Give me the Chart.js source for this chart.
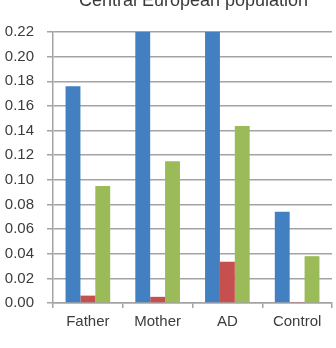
<!DOCTYPE html>
<html>
<head>
<meta charset="utf-8">
<script src="https://cdn.jsdelivr.net/npm/chart.js@4/dist/chart.umd.min.js"></script>
<style>
  html, body { margin: 0; padding: 0; background: #fff; }
</style>
</head>
<body>
<canvas id="chart" width="336" height="348"></canvas>
<script>
const categories = ["Father", "Mother", "AD", "Control"];
const blueValues = [0.176, 0.25, 0.25, 0.074];
const redValues = [0.006, 0.005, 0.0335, 0.0008];
const greenValues = [0.095, 0.115, 0.1437, 0.038];
const tickLabels = ["0.00", "0.02", "0.04", "0.06", "0.08", "0.10", "0.12", "0.14", "0.16", "0.18", "0.20", "0.22"];
const chartTitle = "Central European population";

const gridColor = "#a3a3a3";
const textColor = "#3c3c3c";
const fontFamily = "Liberation Sans";

// title is centred over the plot area and sits partly above the top edge
const plotTitle = {
  id: "plotTitle",
  afterDraw(chart) {
    const c = chart.ctx;
    const area = chart.chartArea;
    c.save();
    c.font = "18px " + fontFamily;
    c.fillStyle = "#3a3a3a";
    c.textAlign = "center";
    c.textBaseline = "alphabetic";
    c.fillText(chartTitle, (area.left + area.right) / 2 + 1, 6);
    c.restore();
  },
};

const ctx = document.getElementById("chart").getContext("2d");

new Chart(ctx, {
  type: "bar",
  data: {
    labels: categories,
    datasets: [
      { label: "Series 1", data: blueValues, backgroundColor: "#4280c2" },
      { label: "Series 2", data: redValues, backgroundColor: "#c6504d" },
      { label: "Series 3", data: greenValues, backgroundColor: "#9bbb59" },
    ],
  },
  plugins: [plotTitle],
  options: {
    responsive: false,
    animation: false,
    layout: { padding: { left: 0, right: 4, top: 32, bottom: 0 } },
    datasets: {
      bar: { categoryPercentage: 0.64, barPercentage: 1.0 },
    },
    scales: {
      x: {
        offset: true,
        afterFit: function (scale) {
          scale.height = 45;
        },
        grid: {
          offset: true,
          drawOnChartArea: false,
          drawTicks: true,
          tickLength: 5,
          color: gridColor,
          lineWidth: 1.5,
        },
        border: { display: true, color: gridColor, width: 1.5 },
        ticks: {
          color: textColor,
          padding: 5,
          font: { family: fontFamily, size: 15 },
        },
      },
      y: {
        min: 0,
        max: 0.22,
        afterFit: function (scale) {
          scale.width = 53;
        },
        ticks: {
          stepSize: 0.02,
          color: textColor,
          padding: 13,
          font: { family: fontFamily, size: 15 },
          callback: function (value, index) {
            return tickLabels[index];
          },
        },
        grid: {
          color: gridColor,
          lineWidth: 1.5,
          tickLength: 6,
        },
        border: { display: true, color: gridColor, width: 1.5 },
      },
    },
    plugins: {
      legend: { display: false },
      tooltip: { enabled: false },
      title: { display: false },
    },
  },
});
</script>
</body>
</html>
